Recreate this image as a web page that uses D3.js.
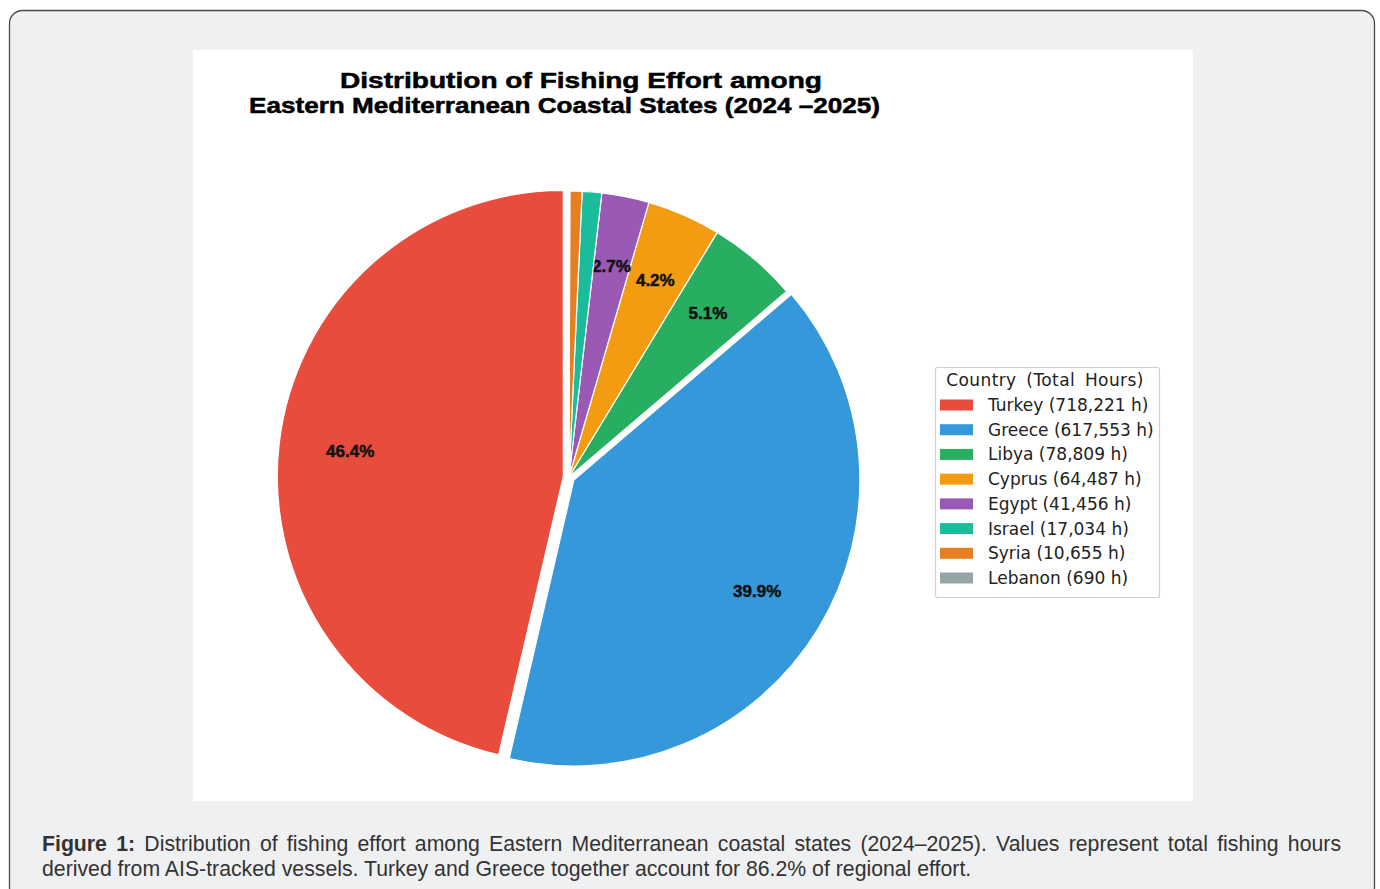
<!DOCTYPE html>
<html>
<head>
<meta charset="utf-8">
<script src="https://cdn.jsdelivr.net/npm/d3@7"></script>
<style>
  html, body { margin: 0; padding: 0; background: #ffffff; }
  svg { display: block; }
  #caption {
    position: absolute; left: 42px; top: 832px; width: 1299px;
    font-family: "Liberation Sans", Arial, sans-serif; font-size: 21.25px; line-height: 25px;
    color: #333333;
  }
  #caption .l1 { text-align: justify; text-align-last: justify; white-space: normal; }
  #caption b { font-weight: bold; }
</style>
</head>
<body>
<div id="chart" style="position:relative;width:1380px;height:889px;">
  <div id="caption">
    <div class="l1"><b>Figure 1:</b> Distribution of fishing effort among Eastern Mediterranean coastal states (2024–2025). Values represent total fishing hours</div>
    <div class="l2">derived from AIS-tracked vessels. Turkey and Greece together account for 86.2% of regional effort.</div>
  </div>
</div>
<script>
// ---- data ----
const countries = ["Turkey", "Greece", "Libya", "Cyprus", "Egypt", "Israel", "Syria", "Lebanon"];
const hours = [718221, 617553, 78809, 64487, 41456, 17034, 10655, 690];
const colors = ["#e74c3c", "#3498db", "#27ae60", "#f39c12", "#9b59b6", "#1abc9c", "#e67e22", "#95a5a6"];
const explode = [0.02, 0.02, 0, 0, 0, 0, 0, 0];
const titleLines = ["Distribution of Fishing Effort among", "Eastern Mediterranean Coastal States (2024 \u20132025)"];
const legendTitle = "Country (Total Hours)";

const data = countries.map((c, i) => ({ country: c, hours: hours[i], color: colors[i], explode: explode[i] }));
const total = d3.sum(hours);

const svg = d3.select("#chart").insert("svg", ":first-child")
  .attr("width", 1380).attr("height", 889)
  .style("position", "absolute").style("left", 0).style("top", 0);

// card
svg.append("rect").attr("x", 9.5).attr("y", 10.5).attr("width", 1365).attr("height", 890)
  .attr("rx", 13).attr("fill", "#eff0f2").attr("stroke", "#4a4a4a").attr("stroke-width", 1.3);
// white figure panel
svg.append("rect").attr("x", 193).attr("y", 50).attr("width", 1000).attr("height", 751).attr("fill", "#ffffff");

// title
const titleG = svg.append("g").attr("font-family", "'Liberation Sans', Arial, sans-serif")
  .attr("font-weight", "bold").attr("font-size", 22).attr("fill", "#000");
const titleSpec = [{ x: 340, y: 88, w: 482 }, { x: 249, y: 113, w: 631 }];
titleLines.forEach((t, i) => {
  titleG.append("text").attr("x", titleSpec[i].x).attr("y", titleSpec[i].y)
    .attr("textLength", titleSpec[i].w).attr("lengthAdjust", "spacingAndGlyphs")
    .style("stroke", "#000").style("stroke-width", 0.5)
    .text(t);
});

// pie
const cx = 569, cy = 477, r = 286;
const pie = d3.pie().sort(null).value(d => d.hours).startAngle(0).endAngle(-2 * Math.PI);
const arc = d3.arc().innerRadius(0).outerRadius(r);
const arcs = pie(data);

const pieG = svg.append("g").attr("transform", `translate(${cx},${cy})`);
const slices = pieG.selectAll("g.slice").data(arcs).join("g").attr("class", "slice")
  .attr("transform", d => {
    const mid = (d.startAngle + d.endAngle) / 2;
    const e = d.data.explode * r;
    return `translate(${e * Math.sin(mid)},${-e * Math.cos(mid)})`;
  });
slices.append("path").attr("d", arc).attr("fill", d => d.data.color)
  .attr("stroke", "#ffffff").attr("stroke-width", 1.2).attr("stroke-linejoin", "round");

const fmtPct = d3.format(".1f");
slices.filter(d => d.data.hours / total * 100 >= 2)
  .append("text")
  .attr("x", d => { const m = (d.startAngle + d.endAngle) / 2; return 0.75 * r * Math.sin(m); })
  .attr("y", d => { const m = (d.startAngle + d.endAngle) / 2; return -0.75 * r * Math.cos(m); })
  .attr("text-anchor", "middle").attr("dominant-baseline", "central")
  .attr("font-family", "'Liberation Sans', Arial, sans-serif").attr("font-weight", "bold")
  .attr("font-size", 17).attr("fill", "#111")
  .style("stroke", "#111").style("stroke-width", 0.5)
  .text(d => fmtPct(d.data.hours / total * 100) + "%");

// legend
const lg = svg.append("g").attr("transform", "translate(935,367)");
lg.append("rect").attr("x", 0.5).attr("y", 0.5).attr("width", 224).attr("height", 230).attr("rx", 2)
  .attr("fill", "#ffffff").attr("stroke", "#d0d0d0").attr("stroke-width", 1.2);
lg.append("text").attr("x", 110).attr("y", 19).attr("text-anchor", "middle")
  .attr("font-family", "'DejaVu Sans', sans-serif").attr("font-size", 17).attr("fill", "#222")
  .attr("letter-spacing", 0.4).attr("word-spacing", 4)
  .text(legendTitle);
const fmtH = d3.format(",");
const rowY = d3.scalePoint().domain(countries).range([38, 211]);
const rows = lg.selectAll("g.row").data(data).join("g").attr("class", "row")
  .attr("transform", d => `translate(0,${rowY(d.country)})`);
rows.append("rect").attr("x", 5).attr("y", -5.5).attr("width", 33).attr("height", 11).attr("fill", d => d.color);
rows.append("text").attr("x", 53).attr("y", 0).attr("dominant-baseline", "central")
  .attr("font-family", "'DejaVu Sans', sans-serif").attr("font-size", 17).attr("fill", "#222")
  .text(d => `${d.country} (${fmtH(d.hours)} h)`);
</script>
</body>
</html>
